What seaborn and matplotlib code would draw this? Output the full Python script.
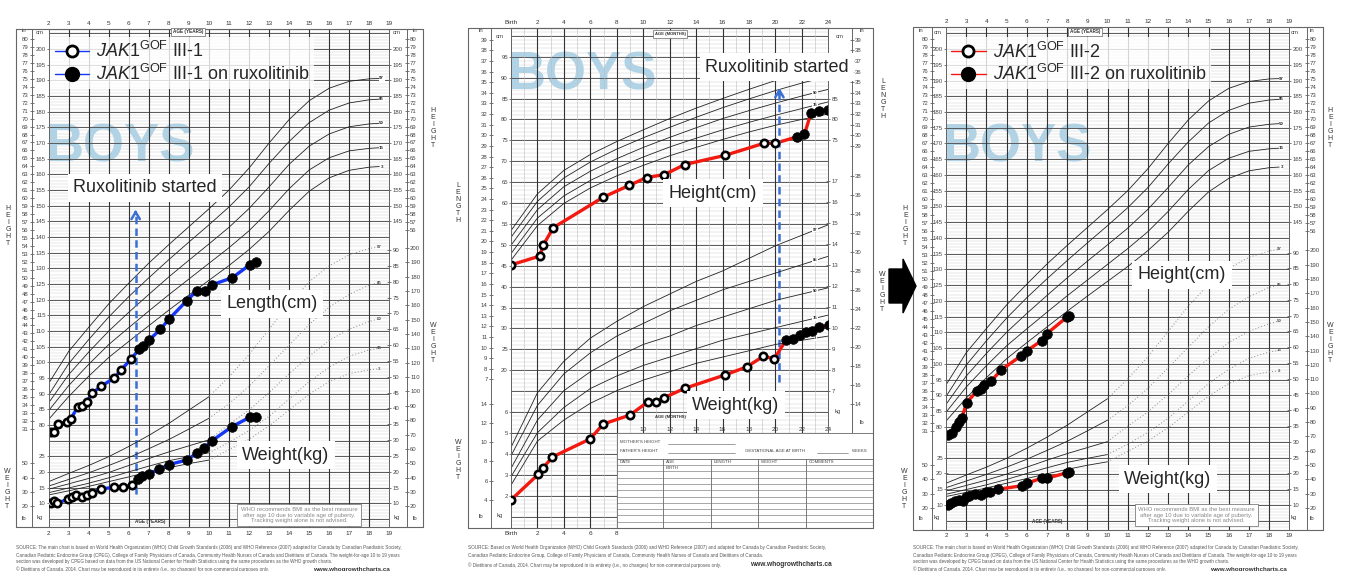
#!/usr/bin/env python3
import numpy as np
import matplotlib.pyplot as plt
import seaborn as sns
from matplotlib.lines import Line2D
from matplotlib.patches import FancyArrow

sns.set_style("white")
plt.rcParams["font.family"] = ["Liberation Sans", "DejaVu Sans"]
plt.rcParams["mathtext.fontset"] = "custom"
plt.rcParams["mathtext.rm"] = "Liberation Sans"
plt.rcParams["mathtext.it"] = "Liberation Sans:italic"

W, H = 1347, 571

# --- reference percentiles, boys 2-19 years ---
ref_age = [2, 3, 4, 5, 6, 7, 8, 9, 10, 11, 12, 13, 14, 15, 16, 17, 18, 18.5]
ht_p97 = [93.3, 103.5, 111.2, 118.7, 125.3, 131.7, 137.6, 143.3, 149.0, 155.0, 162.0, 170.0, 177.5, 183.5, 187.5, 189.7, 190.5, 190.6]
ht_p85 = [89.6, 99.6, 107.3, 114.5, 121.0, 127.0, 132.8, 138.4, 143.9, 149.6, 156.0, 163.5, 170.5, 176.5, 180.5, 182.8, 183.8, 184.0]
ht_p50 = [87.1, 96.1, 103.3, 110.0, 116.0, 121.7, 127.3, 132.6, 137.8, 143.1, 149.1, 156.0, 163.2, 169.0, 172.9, 175.2, 176.1, 176.3]
ht_p15 = [84.6, 92.6, 99.4, 105.7, 111.1, 116.4, 121.6, 126.6, 131.6, 136.6, 142.0, 148.4, 155.4, 161.4, 165.3, 167.5, 168.3, 168.5]
ht_p3 = [81.8, 89.1, 95.6, 101.6, 106.7, 111.7, 116.7, 121.5, 126.2, 130.9, 136.0, 141.8, 148.5, 154.6, 158.9, 161.3, 162.3, 162.5]

wt_age = [2, 3, 4, 5, 6, 7, 8, 9, 10]
wt_p97 = [16.9, 19.5, 22.0, 24.8, 28.0, 31.5, 35.3, 39.5, 43.7]
wt_p85 = [15.5, 17.6, 19.7, 22.0, 24.5, 27.3, 30.2, 33.5, 36.9]
wt_p50 = [14.5, 16.2, 17.9, 19.8, 22.0, 24.2, 26.3, 28.2, 30.1]
wt_p15 = [13.4, 14.9, 16.4, 18.1, 20.0, 21.8, 23.5, 24.8, 26.0]
wt_p3 = [12.7, 14.0, 15.4, 16.9, 18.4, 19.9, 21.3, 22.6, 23.7]

wt_age_late = [10, 11, 12, 13, 14, 15, 16, 17, 18, 18.5]
wt_late_p97 = [43.7, 50.0, 57.0, 65.0, 73.0, 80.0, 85.0, 88.5, 90.5, 91.0]
wt_late_p85 = [36.9, 41.5, 47.0, 53.5, 60.0, 66.5, 72.0, 76.0, 79.0, 79.7]
wt_late_p50 = [30.1, 35.0, 39.5, 45.0, 51.0, 56.5, 61.5, 65.0, 67.5, 68.3]
wt_late_p15 = [26.0, 29.3, 33.0, 37.5, 43.0, 48.5, 53.0, 56.5, 58.5, 59.0]
wt_late_p3 = [23.7, 27.0, 30.3, 34.5, 39.5, 44.5, 48.5, 51.0, 52.2, 52.5]

pct_names = ["97", "85", "50", "15", "3"]

# --- reference percentiles, boys birth-24 months ---
ref_mo = [0, 2, 4, 6, 8, 10, 12, 14, 16, 18, 20, 22, 24]
len_p97 = [53.4, 62.2, 67.8, 71.6, 74.7, 77.5, 80.2, 82.7, 85.0, 87.2, 89.3, 91.2, 92.9]
len_p85 = [51.8, 60.4, 66.0, 69.8, 72.9, 75.6, 78.1, 80.5, 82.8, 84.9, 86.9, 88.7, 90.3]
len_p50 = [49.9, 58.4, 63.9, 67.6, 70.6, 73.3, 75.7, 78.0, 80.2, 82.1, 83.9, 85.6, 87.2]
len_p15 = [47.9, 56.4, 61.7, 65.4, 68.4, 71.0, 73.4, 75.5, 77.5, 79.3, 81.0, 82.6, 84.2]
len_p3 = [46.3, 54.6, 59.9, 63.6, 66.5, 69.0, 71.3, 73.3, 75.2, 77.0, 78.6, 80.0, 81.3]
wtm_p97 = [4.3, 6.9, 8.4, 9.5, 10.3, 11.0, 11.6, 12.2, 12.7, 13.3, 13.9, 14.4, 14.9]
wtm_p85 = [3.9, 6.3, 7.8, 8.8, 9.6, 10.2, 10.8, 11.3, 11.8, 12.2, 12.6, 13.0, 13.4]
wtm_p50 = [3.3, 5.6, 7.0, 7.9, 8.6, 9.2, 9.6, 10.1, 10.5, 10.9, 11.3, 11.6, 11.9]
wtm_p15 = [2.9, 5.0, 6.2, 7.1, 7.7, 8.2, 8.6, 9.0, 9.4, 9.7, 10.0, 10.3, 10.6]
wtm_p3 = [2.5, 4.6, 5.6, 6.4, 7.0, 7.5, 7.9, 8.3, 8.6, 8.9, 9.2, 9.4, 9.6]

# --- patient III-1 (years) ---
p1_ht_age = [2.10, 2.27, 2.45, 2.90, 3.11, 3.45, 3.66, 3.90, 4.15, 4.61, 5.26, 5.62, 6.11,
             6.52, 6.69, 6.99, 7.57, 7.99, 8.88, 9.38, 9.78, 10.13, 11.16, 12.03, 12.34]
p1_ht = [77.9, 77.9, 80.3, 80.9, 82.0, 85.8, 86.1, 87.3, 90.1, 92.3, 95.0, 97.6, 101.1,
         104.2, 105.2, 107.0, 110.5, 113.7, 119.6, 122.8, 122.8, 124.7, 127.0, 131.1, 132.1]
p1_wt_age = [2.09, 2.26, 2.42, 2.98, 3.15, 3.36, 3.65, 3.90, 4.15, 4.61, 5.26, 5.72, 6.17,
             6.44, 6.64, 6.99, 7.52, 8.00, 8.89, 9.42, 9.77, 10.13, 11.16, 12.03, 12.34]
p1_wt = [10.3, 10.9, 10.1, 11.4, 12.0, 12.6, 12.2, 12.8, 13.4, 14.6, 15.1, 15.1, 15.8,
         17.6, 18.7, 19.4, 20.8, 22.3, 23.7, 26.0, 27.6, 29.7, 34.3, 37.2, 37.4]
p1_rux_age = 6.34

# --- infant (months) ---
inf_len_mo = [0, 2.17, 2.45, 3.2, 6.98, 8.93, 10.26, 11.6, 13.14, 16.19, 19.14, 20.0,
              21.6, 22.19, 22.69, 23.32, 23.98]
inf_len = [45.2, 47.3, 50.0, 54.1, 61.4, 64.2, 66.1, 66.8, 69.2, 71.4, 74.3, 74.3,
           75.8, 76.4, 81.5, 82.0, 82.2]
inf_wt_mo = [0, 2.07, 2.40, 3.13, 5.98, 6.98, 9.0, 10.34, 10.99, 11.60, 13.14, 16.19, 17.83,
             19.09, 19.92, 20.8, 21.36, 21.86, 22.31, 22.74, 23.32, 24.07]
inf_wt = [1.80, 3.02, 3.30, 3.84, 4.70, 5.41, 5.84, 6.46, 6.46, 6.67, 7.11, 7.75, 8.13,
          8.64, 8.52, 9.41, 9.48, 9.65, 9.78, 9.84, 10.03, 10.13]
inf_rux_mo = 20.3

# --- patient III-2 (years, all on ruxolitinib) ---
p3_ht_age = [2.11, 2.28, 2.50, 2.64, 2.79, 3.02, 3.52, 3.73, 3.90, 4.24, 4.72, 5.71, 6.00,
             6.74, 7.00, 7.98, 8.11]
p3_ht = [77.4, 78.1, 80.0, 81.6, 82.9, 87.6, 91.3, 91.9, 93.3, 94.5, 98.0, 102.5, 104.1,
         107.4, 109.6, 114.8, 115.3]
p3_wt_age = [2.08, 2.23, 2.45, 2.64, 2.83, 2.98, 3.14, 3.44, 3.72, 3.98, 4.18, 4.59, 5.75,
             6.00, 6.74, 7.00, 7.98, 8.11]
p3_wt = [9.9, 10.7, 11.3, 11.6, 11.4, 12.4, 12.9, 13.4, 13.2, 14.0, 14.1, 15.0, 16.1,
         16.9, 18.5, 18.5, 20.2, 20.5]
p3_rux_age = 0.0

BLUE = "#1536f5"
RED = "#f21a10"
RUX = "#3b6fd4"
TICK = "#444444"
FRAME = "#666666"

fig = plt.figure(figsize=(W / 100, H / 100), dpi=100)


def px_axes(x0, y0, x1, y1):
    return fig.add_axes([x0 / W, 1 - y1 / H, (x1 - x0) / W, (y1 - y0) / H])


def ftext(x, y, s, **kw):
    return fig.text(x / W, 1 - y / H, s, **kw)


def vert_label(x, y, word):
    ftext(x, y, "\n".join(word), fontsize=5, ha="center", va="center",
          linespacing=1.0, color="#333333")


def box_label(x, y, s, size=13):
    ftext(x, y, s, fontsize=size, ha="center", va="center", zorder=6,
          bbox=dict(boxstyle="square,pad=0.3", fc="white", ec="none"))


def small_box(x, y, s, size=3.3):
    ftext(x, y, s, fontsize=size, ha="center", va="center", fontweight="bold", zorder=6,
          color="#333333", bbox=dict(boxstyle="square,pad=0.4", fc="white", ec=FRAME, lw=0.5))


def boys(ax, x, y):
    ax.text(x / W, 1 - y / H, "BOYS", transform=fig.transFigure, fontsize=38,
            fontweight="bold", color="#acd3e8", ha="center", va="center", zorder=0.5)


def style_y(a):
    a.tick_params(axis="y", labelsize=4.3, length=2.5, width=0.5, direction="inout",
                  colors=TICK, pad=1)
    for s in a.spines.values():
        s.set_color(FRAME)
        s.set_linewidth(0.6)


def outer_frame(x0, y0, x1, y1):
    for xs, ys in [([x0, x0], [y0, y1]), ([x1, x1], [y0, y1]),
                   ([x0, x1], [y0, y0]), ([x0, x1], [y1, y1])]:
        fig.add_artist(Line2D([v / W for v in xs], [1 - v / H for v in ys],
                              transform=fig.transFigure, color=FRAME, lw=0.8, zorder=4))


def patient(axh, axw, t_h, v_h, t_w, v_w, rux, color):
    for a, t, v in [(axh, t_h, v_h), (axw, t_w, v_w)]:
        t = np.asarray(t)
        v = np.asarray(v)
        sns.lineplot(x=t, y=v, ax=a, color=color, lw=2.4, estimator=None, sort=False,
                     legend=False, zorder=4)
        pre = t < rux
        if pre.any():
            sns.scatterplot(x=t[pre], y=v[pre], ax=a, s=28, color="white", edgecolor="black",
                            linewidth=1.9, zorder=5, legend=False)
        if (~pre).any():
            sns.scatterplot(x=t[~pre], y=v[~pre], ax=a, s=48, color="black", edgecolor="black",
                            linewidth=0.5, zorder=5, legend=False)


def rux_marker(ax, x, y0, y1):
    ax.plot([x, x], [y0, y1 - 1.5], color=RUX, lw=1.8, dashes=(3, 1.7), zorder=4)
    ax.annotate("", xy=(x, y1), xytext=(x, y1 - 3),
                arrowprops=dict(arrowstyle="->,head_length=0.5,head_width=0.3",
                                color=RUX, lw=1.8), zorder=4)


def legend(ax, name, color, anchor):
    handles = [
        Line2D([], [], color=color, lw=1, marker="o", mfc="white", mec="black", mew=2, ms=8),
        Line2D([], [], color=color, lw=1, marker="o", mfc="black", mec="black", ms=10),
    ]
    labels = [r"$\mathit{JAK1}^{\mathrm{GOF}}$ " + name,
              r"$\mathit{JAK1}^{\mathrm{GOF}}$ " + name + " on ruxolitinib"]
    lg = ax.legend(handles, labels, loc="upper left", bbox_to_anchor=anchor, fontsize=13,
                   frameon=True, fancybox=False, borderaxespad=0, borderpad=0.25,
                   labelspacing=0.15, handlelength=1.9, handletextpad=0.4)
    lg.get_frame().set_edgecolor("none")
    lg.set_zorder(10)


def years_panel(box, cm_lim, kg_lim, in_loc, out_loc, frame, dx, name, color,
                t_h, v_h, t_w, v_w, rux, legend_anchor):
    ax = px_axes(*box)
    ax.set_xlim(2, 19)
    ax.set_ylim(*cm_lim)
    ax.hlines(np.arange(46, 208), 2, 19, color="#cfcfcf", lw=0.35, zorder=1)
    ax.hlines(np.arange(50, 206, 5), 2, 19, color="#5a5a5a", lw=0.7, zorder=1.1)
    ax.vlines(np.arange(3, 19), cm_lim[0], cm_lim[1], color="#333333", lw=0.8, zorder=1.1)
    ax.set_xticks(range(2, 20))
    ax.tick_params(axis="x", top=True, labeltop=True, length=0, labelsize=4.6, pad=2.5,
                   colors="#333333")
    ax.set_yticks(range(80, 201, 5))
    style_y(ax)

    sec = ax.secondary_yaxis(in_loc, functions=(lambda c: c / 2.54, lambda i: i * 2.54))
    sec.set_ticks(range(31, 81))
    style_y(sec)
    sec = ax.secondary_yaxis("right")
    sec.set_ticks(range(145, 201, 5))
    style_y(sec)
    sec = ax.secondary_yaxis(out_loc, functions=(lambda c: c / 2.54, lambda i: i * 2.54))
    sec.set_ticks(range(56, 81))
    style_y(sec)

    axw = ax.twinx()
    axw.set_ylim(*kg_lim)
    axw.set_yticks(range(10, 91, 5))
    style_y(axw)
    sec = axw.secondary_yaxis("left")
    sec.set_ticks([10, 15, 20, 25])
    style_y(sec)
    sec = axw.secondary_yaxis(in_loc, functions=(lambda k: k * 2.2046, lambda p: p / 2.2046))
    sec.set_ticks([20, 30, 40, 50])
    style_y(sec)
    sec = axw.secondary_yaxis(out_loc, functions=(lambda k: k * 2.2046, lambda p: p / 2.2046))
    sec.set_ticks(range(20, 201, 10))
    style_y(sec)

    for nm, curve in zip(pct_names, [ht_p97, ht_p85, ht_p50, ht_p15, ht_p3]):
        sns.lineplot(x=ref_age, y=curve, ax=ax, color="#222222", lw=0.6, estimator=None,
                     sort=False, legend=False, zorder=2)
        ax.text(18.62, curve[-1], nm, fontsize=3.2, fontweight="bold", ha="center",
                va="center", zorder=3, bbox=dict(boxstyle="square,pad=0.1", fc="white", ec="none"))
    for nm, early, late in zip(pct_names, [wt_p97, wt_p85, wt_p50, wt_p15, wt_p3],
                               [wt_late_p97, wt_late_p85, wt_late_p50, wt_late_p15, wt_late_p3]):
        sns.lineplot(x=wt_age, y=early, ax=axw, color="#222222", lw=0.6, estimator=None,
                     sort=False, legend=False, zorder=2)
        sns.lineplot(x=wt_age_late, y=late, ax=axw, color="#8a8a8a", lw=0.7, ls=(0, (1, 2.2)),
                     estimator=None, sort=False, legend=False, zorder=2)
        axw.text(18.5, late[-1], nm, fontsize=3.2, fontweight="bold", ha="center",
                 va="center", color="#555555", zorder=3)

    patient(ax, axw, t_h, v_h, t_w, v_w, rux, color)
    legend(axw, name, color, legend_anchor)
    boys(ax, 120 + dx, 148)
    outer_frame(*frame)

    ftext(24 + dx, 31, "in", fontsize=4.3, ha="center", va="center", color=TICK)
    ftext(40 + dx, 33, "cm", fontsize=4.3, ha="center", va="center", color=TICK)
    ftext(397 + dx, 33, "cm", fontsize=4.3, ha="center", va="center", color=TICK)
    ftext(415 + dx, 31, "in", fontsize=4.3, ha="center", va="center", color=TICK)
    ftext(24 + dx, 518, "lb", fontsize=4.3, ha="center", va="center", color=TICK)
    ftext(40 + dx, 518, "kg", fontsize=4.3, ha="center", va="center", color=TICK)
    ftext(397 + dx, 518, "kg", fontsize=4.3, ha="center", va="center", color=TICK)
    ftext(415 + dx, 518, "lb", fontsize=4.3, ha="center", va="center", color=TICK)
    small_box(188 + dx, 32, "AGE (YEARS)")
    ftext(150 + dx, 522, "AGE (YEARS)", fontsize=3.3, fontweight="bold", ha="center",
          va="center", color="#333333")
    ftext(299 + dx, 515, "WHO recommends BMI as the best measure\nafter age 10 due to variable age of puberty.\n"
          "Tracking weight alone is not advised.", fontsize=4.2, ha="center", va="center",
          color="#888888", linespacing=1.05, zorder=6,
          bbox=dict(boxstyle="square,pad=0.55", fc="white", ec=FRAME, lw=0.5))
    vert_label(8 + dx, 226, "HEIGHT")
    vert_label(7 + dx, 489, "WEIGHT")
    vert_label(433 + dx, 128, "HEIGHT")
    vert_label(433 + dx, 343, "WEIGHT")
    return ax, axw


# ---------------- panel 1 : III-1 ----------------
ax1, ax1w = years_panel((48.7, 29.3, 389.3, 527.3), (47.35, 206.3), (2.48, 159.7), -0.05, 1.052,
                        (16, 29.3, 423, 527.3), 0, "III-1", BLUE,
                        p1_ht_age, p1_ht, p1_wt_age, p1_wt, p1_rux_age, (0.004, 0.985))
rux_marker(ax1, p1_rux_age, 58.0, 149.6)
box_label(145, 188, "Ruxolitinib started")
box_label(272, 304, "Length(cm)")
box_label(286, 455, "Weight(kg)")

# ---------------- panel 3 : III-2 ----------------
ax3, ax3w = years_panel((946, 27, 1289.3, 530), (47.2, 207.0), (2.08, 161.5), -0.042, 1.051,
                        (913, 27, 1323, 530), 897.3, "III-2", RED,
                        p3_ht_age, p3_ht, p3_wt_age, p3_wt, p3_rux_age, (0.002, 0.980))
box_label(1182, 275, "Height(cm)")
box_label(1168, 479, "Weight(kg)")

# ---------------- panel 2 : infant, months ----------------
len_lim = (-17.75, 101.87)
kgm_lim = (0.46, 24.27)
ax2 = px_axes(511, 28, 828.3, 528)
ax2.set_xlim(0, 24)
ax2.set_ylim(*len_lim)
ax2.hlines(np.arange(-17, 102), 0, 24, color="#cfcfcf", lw=0.35, zorder=1)
ax2.hlines(np.arange(-15, 101, 5), 0, 24, color="#5a5a5a", lw=0.7, zorder=1.1)
ax2.vlines(np.arange(1, 24, 2), *len_lim, color="#bdbdbd", lw=0.4, zorder=1.1)
ax2.vlines(np.arange(2, 24, 2), *len_lim, color="#333333", lw=0.8, zorder=1.1)
ax2.set_xticks([0, 2, 4, 6, 8], ["Birth", "2", "4", "6", "8"])
ax2.tick_params(axis="x", length=0, labelsize=4.6, pad=2.5, colors="#333333")
top = ax2.secondary_xaxis("top")
top.set_ticks(range(0, 25, 2), ["Birth"] + [str(m) for m in range(2, 25, 2)])
top.tick_params(length=0, labelsize=4.6, pad=2.5, colors="#333333")
inner = ax2.secondary_xaxis((528 - 432.7) / 500)
inner.set_alignment("top")
inner.set_ticks(range(10, 25, 2))
inner.tick_params(length=0, labelsize=4.6, pad=0.5, colors="#333333")
for s in inner.spines.values():
    s.set_visible(False)

ax2.set_yticks(range(20, 96, 5))
style_y(ax2)
sec = ax2.secondary_yaxis(-0.064, functions=(lambda c: c / 2.54, lambda i: i * 2.54))
sec.set_ticks(range(7, 40))
style_y(sec)
sec = ax2.secondary_yaxis("right")
sec.set_ticks([75, 80, 85])
style_y(sec)
sec = ax2.secondary_yaxis(1.0737, functions=(lambda c: c / 2.54, lambda i: i * 2.54))
sec.set_ticks(range(29, 40))
style_y(sec)

ax2w = ax2.twinx()
ax2w.set_ylim(*kgm_lim)
ax2w.set_yticks(range(7, 18))
style_y(ax2w)
sec = ax2w.secondary_yaxis("left")
sec.set_ticks(range(2, 7))
style_y(sec)
sec = ax2w.secondary_yaxis(-0.064, functions=(lambda k: k * 2.2046, lambda p: p / 2.2046))
sec.set_ticks(range(4, 15, 2))
style_y(sec)
sec = ax2w.secondary_yaxis(1.0737, functions=(lambda k: k * 2.2046, lambda p: p / 2.2046))
sec.set_ticks(range(14, 39, 2))
style_y(sec)

for nm, lc, wc in zip(pct_names, [len_p97, len_p85, len_p50, len_p15, len_p3],
                      [wtm_p97, wtm_p85, wtm_p50, wtm_p15, wtm_p3]):
    sns.lineplot(x=ref_mo, y=lc, ax=ax2, color="#222222", lw=0.6, estimator=None,
                 sort=False, legend=False, zorder=2)
    sns.lineplot(x=ref_mo, y=wc, ax=ax2w, color="#222222", lw=0.6, estimator=None,
                 sort=False, legend=False, zorder=2)
    ax2.text(23.0, np.interp(23.0, ref_mo, lc), nm, fontsize=3.0, fontweight="bold",
             ha="center", va="center", zorder=3,
             bbox=dict(boxstyle="square,pad=0.1", fc="white", ec="none"))
    ax2w.text(23.0, np.interp(23.0, ref_mo, wc), nm, fontsize=3.0, fontweight="bold",
              ha="center", va="center", zorder=3,
              bbox=dict(boxstyle="square,pad=0.1", fc="white", ec="none"))

patient(ax2, ax2w, inf_len_mo, inf_len, inf_wt_mo, inf_wt, inf_rux_mo, RED)
rux_marker(ax2, inf_rux_mo, 17.25, 88.2)
boys(ax2, 582, 76)
outer_frame(468, 28, 873, 528)

# record table in the lower right of the infant chart
tab = px_axes(616.8, 432.7, 873, 528)
tab.set_xlim(616.8, 873)
tab.set_ylim(528, 432.7)
tab.set_xticks([])
tab.set_yticks([])
tab.set_facecolor("white")
tab.set_zorder(3)
for s in tab.spines.values():
    s.set_color(FRAME)
    s.set_linewidth(0.6)
tk = dict(fontsize=3.2, va="center", color="#444444")
tab.text(620, 442, "MOTHER'S HEIGHT", **tk)
tab.plot([668, 735], [443.5, 443.5], color="#555555", lw=0.4)
tab.text(620, 451, "FATHER'S HEIGHT", **tk)
tab.plot([668, 735], [452.5, 452.5], color="#555555", lw=0.4)
tab.text(745, 451, "GESTATIONAL AGE AT BIRTH", **tk)
tab.plot([817, 848], [452.5, 452.5], color="#555555", lw=0.4)
tab.text(852, 451, "WEEKS", **tk)
tab.axhline(459, color=FRAME, lw=0.6)
for xc, lab in zip([620, 666, 714, 761, 809], ["DATE", "AGE", "LENGTH", "WEIGHT", "COMMENTS"]):
    tab.text(xc, 462.3, lab, **tk)
tab.text(666, 468.3, "BIRTH", **tk)
for xv in [663, 711, 758, 806]:
    tab.plot([xv, xv], [459, 528], color=FRAME, lw=0.6)
for yv in np.arange(465, 527, 6.3):
    tab.axhline(yv, color="#777777", lw=0.45)

ftext(481, 30, "in", fontsize=4.3, ha="center", va="center", color=TICK)
ftext(500, 36, "cm", fontsize=4.3, ha="center", va="center", color=TICK)
ftext(840, 36, "cm", fontsize=4.3, ha="center", va="center", color=TICK)
ftext(862, 30, "in", fontsize=4.3, ha="center", va="center", color=TICK)
ftext(481, 517, "lb", fontsize=4.3, ha="center", va="center", color=TICK)
ftext(500, 516, "kg", fontsize=4.3, ha="center", va="center", color=TICK)
ftext(838, 412, "kg", fontsize=4.3, ha="center", va="center", color=TICK)
ftext(862, 423, "lb", fontsize=4.3, ha="center", va="center", color=TICK)
small_box(670, 34, "AGE (MONTHS)", size=3.0)
ftext(670, 417, "AGE (MONTHS)", fontsize=3.0, fontweight="bold", ha="center", va="center",
      color="#333333")
vert_label(458, 203, "LENGTH")
vert_label(458, 460, "WEIGHT")
vert_label(883, 99, "LENGTH")
vert_label(882, 292, "WEIGHT")
box_label(777, 67, "Ruxolitinib started")
box_label(713, 193, "Height(cm)")
box_label(736, 405, "Weight(kg)")

# arrow pointing to the III-2 chart
fig.add_artist(FancyArrow(889 / W, 1 - 286 / H, 27 / W, 0, width=34 / H, head_width=54 / H,
                          head_length=13 / W, length_includes_head=True, color="black",
                          transform=fig.transFigure, zorder=8))

# source notes
src_years = [
    "SOURCE: The main chart is based on World Health Organization (WHO) Child Growth Standards (2006) and WHO Reference (2007) adapted for Canada by Canadian Paediatric Society,",
    "Canadian Pediatric Endocrine Group (CPEG), College of Family Physicians of Canada, Community Health Nurses of Canada and Dietitians of Canada. The weight-for-age 10 to 19 years",
    "section was developed by CPEG based on data from the US National Center for Health Statistics using the same procedures as the WHO growth charts.",
    "\u00a9 Dietitians of Canada, 2014. Chart may be reproduced in its entirety (i.e., no changes) for non-commercial purposes only.",
]
src_months = [
    "SOURCE: Based on World Health Organization (WHO) Child Growth Standards (2006) and WHO Reference (2007) and adapted for Canada by Canadian Paediatric Society,",
    "Canadian Pediatric Endocrine Group, College of Family Physicians of Canada, Community Health Nurses of Canada and Dietitians of Canada.",
    "\u00a9 Dietitians of Canada, 2014. Chart may be reproduced in its entirety (i.e., no changes) for non-commercial purposes only.",
]
for x0 in [16, 913]:
    for i, line in enumerate(src_years):
        ftext(x0, 548 + 7 * i, line, fontsize=3.3, ha="left", va="center", color="#555555")
    ftext(x0 + 297, 569, "www.whogrowthcharts.ca", fontsize=4.5, fontweight="bold",
          ha="left", va="center", color="#333333")
for i, line in enumerate(src_months):
    ftext(468, 548 + (7 * i if i < 2 else 17), line, fontsize=3.3, ha="left", va="center",
          color="#555555")
ftext(750, 565, "www.whogrowthcharts.ca", fontsize=4.8, fontweight="bold", ha="left",
      va="center", color="#333333")

fig.savefig("out.png", dpi=100)
